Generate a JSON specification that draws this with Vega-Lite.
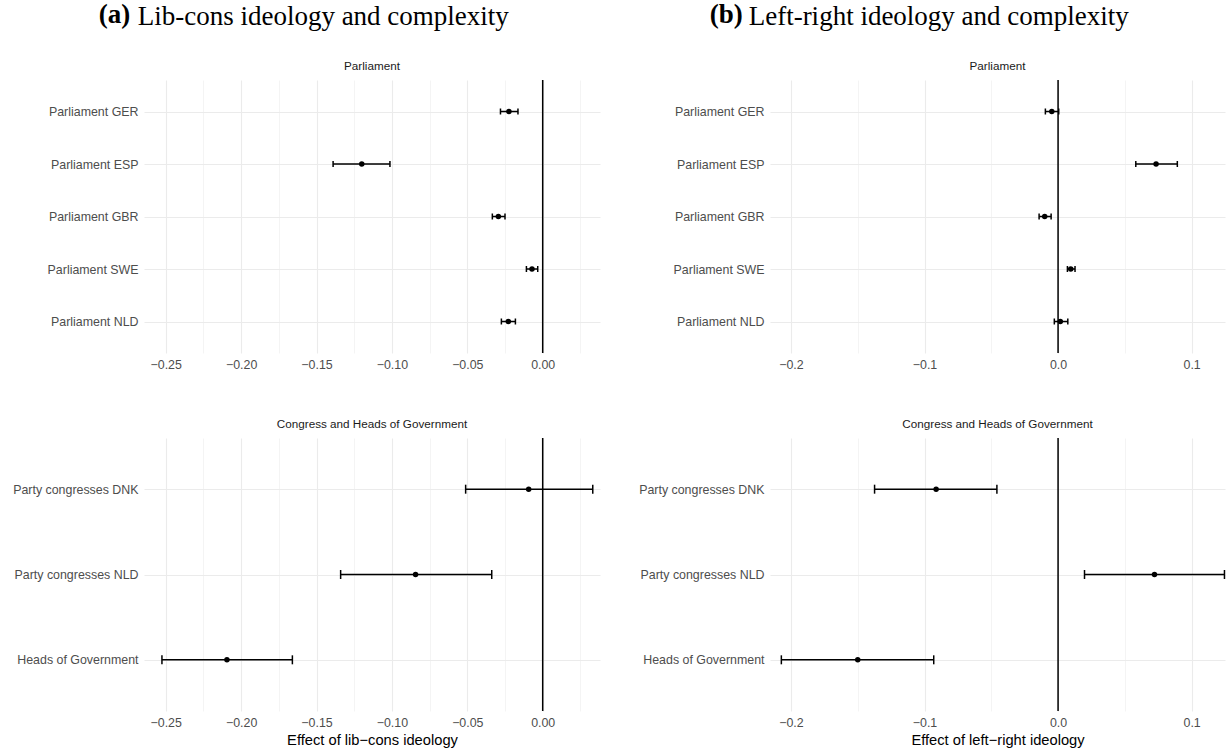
{
  "$schema": "https://vega.github.io/schema/vega-lite/v6.json",
  "background": "white",
  "padding": {"left": 12, "top": 0, "right": 0, "bottom": 0},
  "config": {
    "view": {"stroke": null},
    "font": "Liberation Sans",
    "axis": {
      "domain": false, "ticks": false, "tickSize": 0,
      "gridColor": "#EBEBEB", "gridWidth": 1.1,
      "labelFont": "Liberation Sans", "labelFontSize": 12.4, "labelColor": "#4D4D4D",
      "titleFont": "Liberation Sans", "titleFontSize": 14.7, "titleFontWeight": "normal", "titleColor": "#000000"
    },
    "title": {"font": "Liberation Sans", "fontSize": 11.7, "fontWeight": "normal", "color": "#1A1A1A", "offset": 7, "anchor": "middle", "frame": "group"}
  },
  "datasets": {
    "d": [
      {"col": "a", "panel": "P", "label": "Parliament GER", "est": -0.0224, "lo": -0.0280, "hi": -0.0164},
      {"col": "a", "panel": "P", "label": "Parliament ESP", "est": -0.1200, "lo": -0.1390, "hi": -0.1013},
      {"col": "a", "panel": "P", "label": "Parliament GBR", "est": -0.0294, "lo": -0.0334, "hi": -0.0250},
      {"col": "a", "panel": "P", "label": "Parliament SWE", "est": -0.0071, "lo": -0.0108, "hi": -0.0033},
      {"col": "a", "panel": "P", "label": "Parliament NLD", "est": -0.0228, "lo": -0.0274, "hi": -0.0181},
      {"col": "a", "panel": "C", "label": "Party congresses DNK", "est": -0.0093, "lo": -0.0511, "hi": 0.0332},
      {"col": "a", "panel": "C", "label": "Party congresses NLD", "est": -0.0843, "lo": -0.1340, "hi": -0.0338},
      {"col": "a", "panel": "C", "label": "Heads of Government", "est": -0.2094, "lo": -0.2525, "hi": -0.1660},
      {"col": "b", "panel": "P", "label": "Parliament GER", "est": -0.0047, "lo": -0.0095, "hi": 0.0005},
      {"col": "b", "panel": "P", "label": "Parliament ESP", "est": 0.0734, "lo": 0.0582, "hi": 0.0893},
      {"col": "b", "panel": "P", "label": "Parliament GBR", "est": -0.0100, "lo": -0.0142, "hi": -0.0052},
      {"col": "b", "panel": "P", "label": "Parliament SWE", "est": 0.0095, "lo": 0.0070, "hi": 0.0127},
      {"col": "b", "panel": "P", "label": "Parliament NLD", "est": 0.0017, "lo": -0.0028, "hi": 0.0073},
      {"col": "b", "panel": "C", "label": "Party congresses DNK", "est": -0.0913, "lo": -0.1374, "hi": -0.0458},
      {"col": "b", "panel": "C", "label": "Party congresses NLD", "est": 0.0722, "lo": 0.0198, "hi": 0.1246},
      {"col": "b", "panel": "C", "label": "Heads of Government", "est": -0.1500, "lo": -0.2072, "hi": -0.0931}
    ],
    "zero": [{"z": 0}]
  },
  "spacing": 38,
  "hconcat": [
    {
      "title": {"text": "(a)", "font": "Liberation Serif", "fontSize": 27, "fontWeight": "bold", "color": "#000000", "anchor": "start", "frame": "bounds", "dx": 86, "dy": 26, "offset": 0},
      "vconcat": [
        {
          "title": {"text": "Lib-cons ideology and complexity", "font": "Liberation Serif", "fontSize": 27, "fontWeight": "normal", "color": "#000000", "anchor": "start", "frame": "bounds", "dx": 125, "offset": 30},
          "spacing": 47,
          "vconcat": [
            {
              "width": 456, "height": 273,
              "title": {"text": "Parliament"},
              "data": {"name": "d"},
              "transform": [{"filter": "datum.col === 'a' && datum.panel === 'P'"}],
              "layer": [
                {
                  "mark": {"type": "rule", "stroke": "black", "strokeWidth": 1.5},
                  "encoding": {
                    "y": {"field": "label", "type": "nominal", "sort": ["Parliament GER", "Parliament ESP", "Parliament GBR", "Parliament SWE", "Parliament NLD"], "scale": {"type": "point", "padding": 0.6}, "axis": {"title": null, "grid": true, "labelPadding": 6}},
                    "x": {"field": "lo", "type": "quantitative", "scale": {"domain": [-0.2644, 0.038], "nice": false, "zero": false},
                      "axis": {"title": null, "values": [-0.25, -0.225, -0.2, -0.175, -0.15, -0.125, -0.1, -0.075, -0.05, -0.025, 0, 0.025], "labelOverlap": false, "labelFlush": false, "labelPadding": 5,
                        "labelExpr": "abs(round(datum.value*40) % 2) == 1 ? '' : format(datum.value, '.2f')",
                        "gridWidth": {"condition": {"test": "abs(round(datum.value*40) % 2) == 1", "value": 0.55}, "value": 1.1}}},
                    "x2": {"field": "hi"}
                  }
                },
                {"mark": {"type": "tick", "orient": "vertical", "size": 6, "thickness": 1.5, "color": "black", "opacity": 1}, "encoding": {"y": {"field": "label", "type": "nominal", "sort": ["Parliament GER", "Parliament ESP", "Parliament GBR", "Parliament SWE", "Parliament NLD"]}, "x": {"field": "lo", "type": "quantitative"}}},
                {"mark": {"type": "tick", "orient": "vertical", "size": 6, "thickness": 1.5, "color": "black", "opacity": 1}, "encoding": {"y": {"field": "label", "type": "nominal", "sort": ["Parliament GER", "Parliament ESP", "Parliament GBR", "Parliament SWE", "Parliament NLD"]}, "x": {"field": "hi", "type": "quantitative"}}},
                {"mark": {"type": "point", "filled": true, "size": 30, "color": "black", "opacity": 1}, "encoding": {"y": {"field": "label", "type": "nominal", "sort": ["Parliament GER", "Parliament ESP", "Parliament GBR", "Parliament SWE", "Parliament NLD"]}, "x": {"field": "est", "type": "quantitative"}}},
                {"data": {"name": "zero"}, "mark": {"type": "rule", "stroke": "black", "strokeWidth": 1.5}, "encoding": {"x": {"field": "z", "type": "quantitative"}}}
              ]
            },
            {
              "width": 456, "height": 273,
              "title": {"text": "Congress and Heads of Government"},
              "data": {"name": "d"},
              "transform": [{"filter": "datum.col === 'a' && datum.panel === 'C'"}],
              "layer": [
                {
                  "mark": {"type": "rule", "stroke": "black", "strokeWidth": 1.5},
                  "encoding": {
                    "y": {"field": "label", "type": "nominal", "sort": ["Party congresses DNK", "Party congresses NLD", "Heads of Government"], "scale": {"type": "point", "padding": 0.6}, "axis": {"title": null, "grid": true, "labelPadding": 6}},
                    "x": {"field": "lo", "type": "quantitative", "scale": {"domain": [-0.2644, 0.038], "nice": false, "zero": false},
                      "axis": {"title": "Effect of lib\u2212cons ideology", "titlePadding": 4, "values": [-0.25, -0.225, -0.2, -0.175, -0.15, -0.125, -0.1, -0.075, -0.05, -0.025, 0, 0.025], "labelOverlap": false, "labelFlush": false, "labelPadding": 5,
                        "labelExpr": "abs(round(datum.value*40) % 2) == 1 ? '' : format(datum.value, '.2f')",
                        "gridWidth": {"condition": {"test": "abs(round(datum.value*40) % 2) == 1", "value": 0.55}, "value": 1.1}}},
                    "x2": {"field": "hi"}
                  }
                },
                {"mark": {"type": "tick", "orient": "vertical", "size": 9, "thickness": 1.5, "color": "black", "opacity": 1}, "encoding": {"y": {"field": "label", "type": "nominal", "sort": ["Party congresses DNK", "Party congresses NLD", "Heads of Government"]}, "x": {"field": "lo", "type": "quantitative"}}},
                {"mark": {"type": "tick", "orient": "vertical", "size": 9, "thickness": 1.5, "color": "black", "opacity": 1}, "encoding": {"y": {"field": "label", "type": "nominal", "sort": ["Party congresses DNK", "Party congresses NLD", "Heads of Government"]}, "x": {"field": "hi", "type": "quantitative"}}},
                {"mark": {"type": "point", "filled": true, "size": 30, "color": "black", "opacity": 1}, "encoding": {"y": {"field": "label", "type": "nominal", "sort": ["Party congresses DNK", "Party congresses NLD", "Heads of Government"]}, "x": {"field": "est", "type": "quantitative"}}},
                {"data": {"name": "zero"}, "mark": {"type": "rule", "stroke": "black", "strokeWidth": 1.5}, "encoding": {"x": {"field": "z", "type": "quantitative"}}}
              ]
            }
          ]
        }
      ]
    },
    {
      "title": {"text": "(b)", "font": "Liberation Serif", "fontSize": 27, "fontWeight": "bold", "color": "#000000", "anchor": "start", "frame": "bounds", "dx": 71, "dy": 26, "offset": 0},
      "vconcat": [
        {
          "title": {"text": "Left-right ideology and complexity", "font": "Liberation Serif", "fontSize": 27, "fontWeight": "normal", "color": "#000000", "anchor": "start", "frame": "bounds", "dx": 110, "offset": 30},
          "spacing": 47,
          "vconcat": [
            {
              "width": 455, "height": 273,
              "title": {"text": "Parliament"},
              "data": {"name": "d"},
              "transform": [{"filter": "datum.col === 'b' && datum.panel === 'P'"}],
              "layer": [
                {
                  "mark": {"type": "rule", "stroke": "black", "strokeWidth": 1.5},
                  "encoding": {
                    "y": {"field": "label", "type": "nominal", "sort": ["Parliament GER", "Parliament ESP", "Parliament GBR", "Parliament SWE", "Parliament NLD"], "scale": {"type": "point", "padding": 0.6}, "axis": {"title": null, "grid": true, "labelPadding": 6}},
                    "x": {"field": "lo", "type": "quantitative", "scale": {"domain": [-0.2157, 0.125], "nice": false, "zero": false},
                      "axis": {"title": null, "values": [-0.2, -0.15, -0.1, -0.05, 0, 0.05, 0.1], "labelOverlap": false, "labelFlush": false, "labelPadding": 5,
                        "labelExpr": "abs(round(datum.value*20) % 2) == 1 ? '' : format(datum.value, '.1f')",
                        "gridWidth": {"condition": {"test": "abs(round(datum.value*20) % 2) == 1", "value": 0.55}, "value": 1.1}}},
                    "x2": {"field": "hi"}
                  }
                },
                {"mark": {"type": "tick", "orient": "vertical", "size": 6, "thickness": 1.5, "color": "black", "opacity": 1}, "encoding": {"y": {"field": "label", "type": "nominal", "sort": ["Parliament GER", "Parliament ESP", "Parliament GBR", "Parliament SWE", "Parliament NLD"]}, "x": {"field": "lo", "type": "quantitative"}}},
                {"mark": {"type": "tick", "orient": "vertical", "size": 6, "thickness": 1.5, "color": "black", "opacity": 1}, "encoding": {"y": {"field": "label", "type": "nominal", "sort": ["Parliament GER", "Parliament ESP", "Parliament GBR", "Parliament SWE", "Parliament NLD"]}, "x": {"field": "hi", "type": "quantitative"}}},
                {"mark": {"type": "point", "filled": true, "size": 30, "color": "black", "opacity": 1}, "encoding": {"y": {"field": "label", "type": "nominal", "sort": ["Parliament GER", "Parliament ESP", "Parliament GBR", "Parliament SWE", "Parliament NLD"]}, "x": {"field": "est", "type": "quantitative"}}},
                {"data": {"name": "zero"}, "mark": {"type": "rule", "stroke": "black", "strokeWidth": 1.5}, "encoding": {"x": {"field": "z", "type": "quantitative"}}}
              ]
            },
            {
              "width": 455, "height": 273,
              "title": {"text": "Congress and Heads of Government"},
              "data": {"name": "d"},
              "transform": [{"filter": "datum.col === 'b' && datum.panel === 'C'"}],
              "layer": [
                {
                  "mark": {"type": "rule", "stroke": "black", "strokeWidth": 1.5},
                  "encoding": {
                    "y": {"field": "label", "type": "nominal", "sort": ["Party congresses DNK", "Party congresses NLD", "Heads of Government"], "scale": {"type": "point", "padding": 0.6}, "axis": {"title": null, "grid": true, "labelPadding": 6}},
                    "x": {"field": "lo", "type": "quantitative", "scale": {"domain": [-0.2157, 0.125], "nice": false, "zero": false},
                      "axis": {"title": "Effect of left\u2212right ideology", "titlePadding": 4, "values": [-0.2, -0.15, -0.1, -0.05, 0, 0.05, 0.1], "labelOverlap": false, "labelFlush": false, "labelPadding": 5,
                        "labelExpr": "abs(round(datum.value*20) % 2) == 1 ? '' : format(datum.value, '.1f')",
                        "gridWidth": {"condition": {"test": "abs(round(datum.value*20) % 2) == 1", "value": 0.55}, "value": 1.1}}},
                    "x2": {"field": "hi"}
                  }
                },
                {"mark": {"type": "tick", "orient": "vertical", "size": 9, "thickness": 1.5, "color": "black", "opacity": 1}, "encoding": {"y": {"field": "label", "type": "nominal", "sort": ["Party congresses DNK", "Party congresses NLD", "Heads of Government"]}, "x": {"field": "lo", "type": "quantitative"}}},
                {"mark": {"type": "tick", "orient": "vertical", "size": 9, "thickness": 1.5, "color": "black", "opacity": 1}, "encoding": {"y": {"field": "label", "type": "nominal", "sort": ["Party congresses DNK", "Party congresses NLD", "Heads of Government"]}, "x": {"field": "hi", "type": "quantitative"}}},
                {"mark": {"type": "point", "filled": true, "size": 30, "color": "black", "opacity": 1}, "encoding": {"y": {"field": "label", "type": "nominal", "sort": ["Party congresses DNK", "Party congresses NLD", "Heads of Government"]}, "x": {"field": "est", "type": "quantitative"}}},
                {"data": {"name": "zero"}, "mark": {"type": "rule", "stroke": "black", "strokeWidth": 1.5}, "encoding": {"x": {"field": "z", "type": "quantitative"}}}
              ]
            }
          ]
        }
      ]
    }
  ]
}
